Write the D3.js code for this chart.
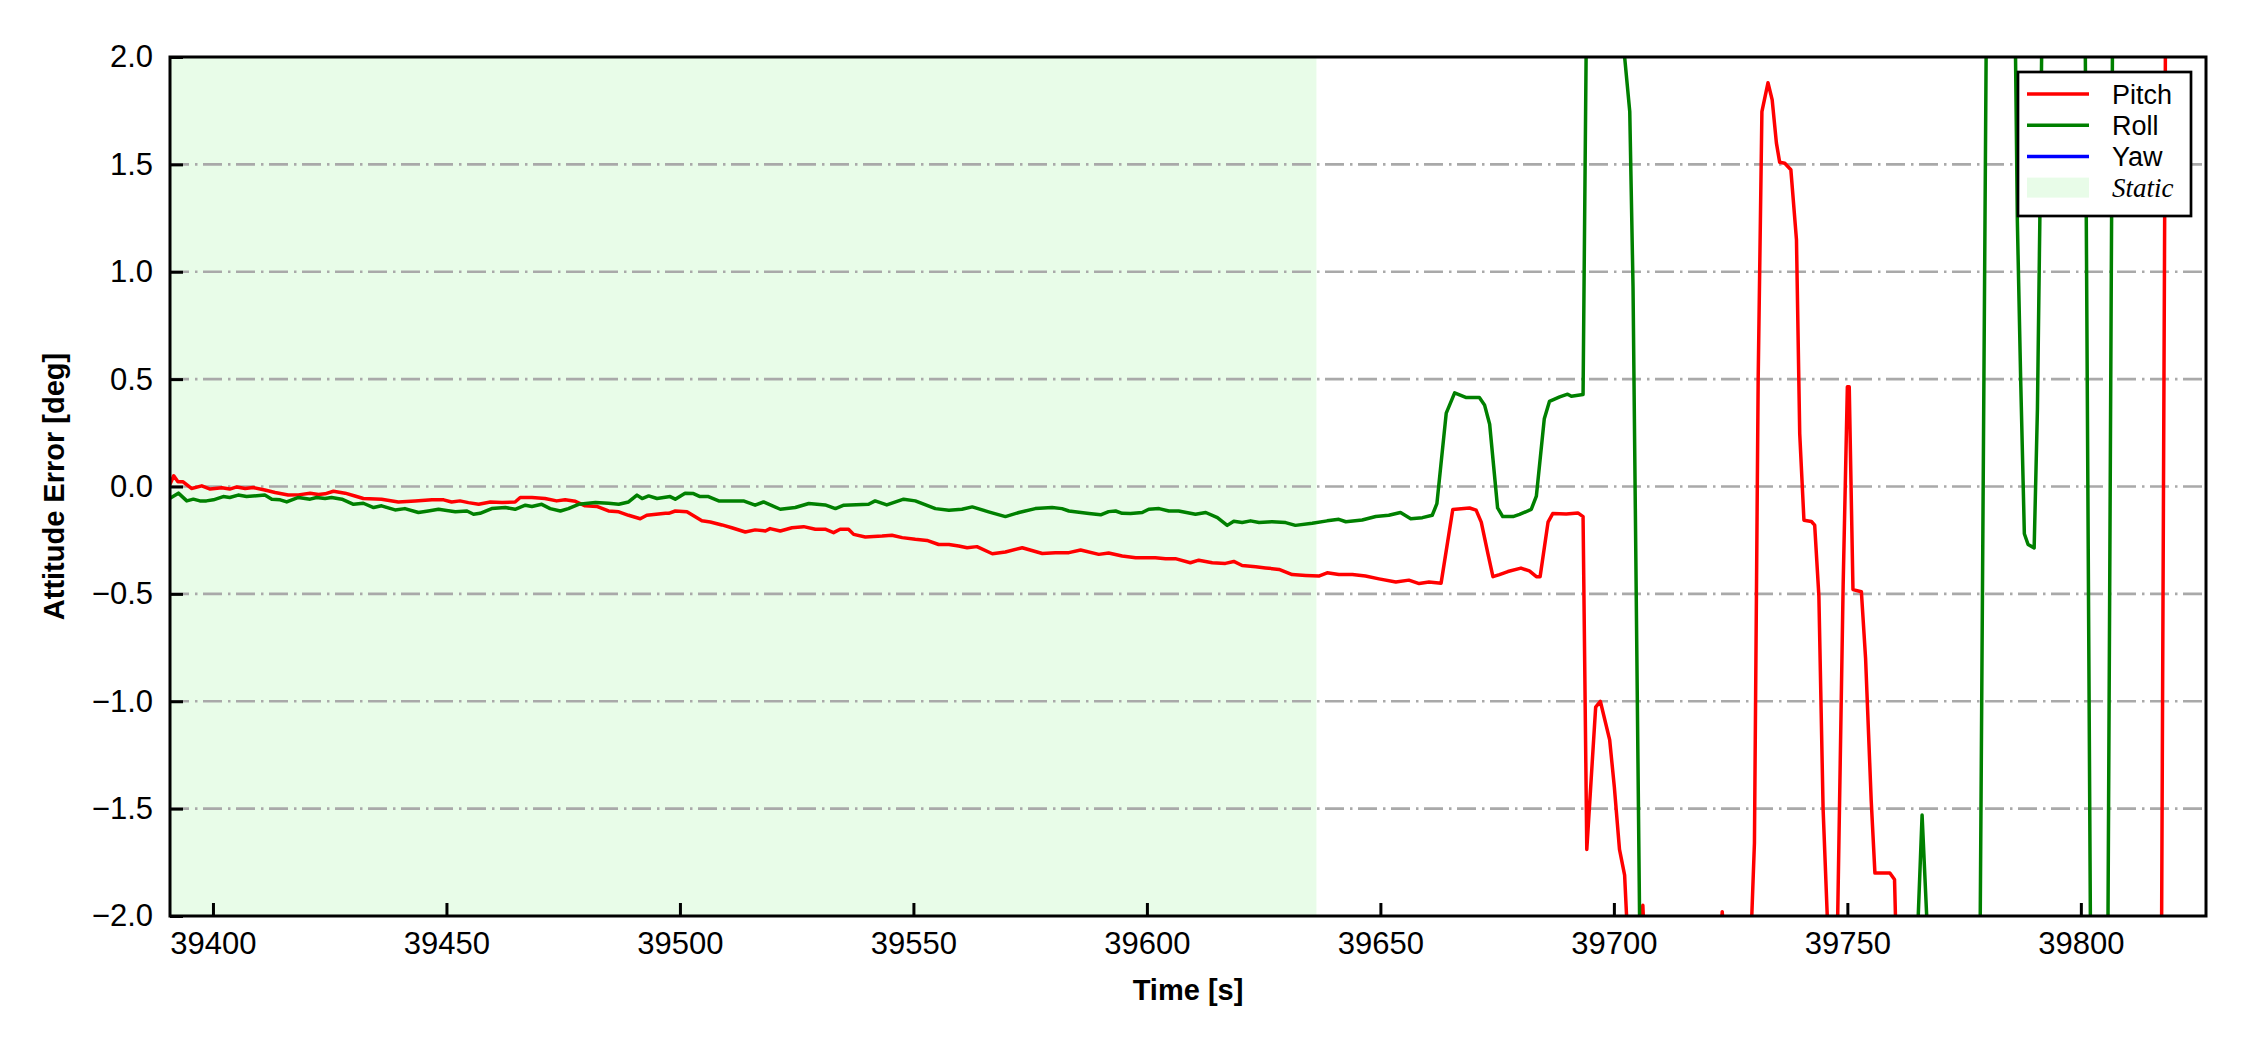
<!DOCTYPE html>
<html>
<head>
<meta charset="utf-8">
<script src="https://cdn.jsdelivr.net/npm/d3@7"></script>
<style>
  html, body { margin: 0; padding: 0; background: #fff; }
  svg { display: block; }
  .tick text { font-family: "Liberation Sans", Arial, sans-serif; }
</style>
</head>
<body>
<div id="chart"></div>
<script>
// axis window
var timeRange = [39390.8, 39826.8];
var errorRange = [-2, 2];
var timeTicks = [39400, 39450, 39500, 39550, 39600, 39650, 39700, 39750, 39800];
var errorTicks = [-2, -1.5, -1, -0.5, 0, 0.5, 1, 1.5, 2];

// static period (shaded)
var staticSpan = [39390.8, 39636.3];

// [time, error]; values beyond +-2 only mark where
// the trace leaves the visible window
var pitch = [
  [39390.8, 0.01], [39391.6, 0.05], [39392.5, 0.022], [39393.6, 0.022], [39395.4, -0.009],
  [39397.6, 0.003], [39399.4, -0.012], [39401.9, -0.006], [39403.6, -0.012], [39405.1, -0.002],
  [39406.9, -0.009], [39408.6, -0.005], [39411.1, -0.016], [39413.3, -0.028], [39416.1, -0.04],
  [39418.3, -0.039], [39420.8, -0.031], [39422.6, -0.037], [39424.0, -0.034], [39425.8, -0.022],
  [39428.3, -0.031], [39430.4, -0.044], [39432.2, -0.056], [39436.1, -0.059], [39439.7, -0.072],
  [39443.3, -0.067], [39446.9, -0.062], [39449.4, -0.062], [39451.1, -0.072], [39452.9, -0.067],
  [39454.7, -0.075], [39456.9, -0.083], [39459.4, -0.072], [39461.9, -0.075], [39464.7, -0.072],
  [39465.8, -0.051], [39468.3, -0.051], [39471.1, -0.056], [39473.6, -0.067], [39475.4, -0.062],
  [39477.6, -0.069], [39479.7, -0.09], [39482.2, -0.093], [39484.7, -0.114], [39486.9, -0.118],
  [39489.0, -0.134], [39491.5, -0.15], [39492.9, -0.134], [39496.9, -0.125], [39497.6, -0.125],
  [39499.0, -0.114], [39501.5, -0.118], [39504.7, -0.16], [39506.5, -0.165], [39509.0, -0.179],
  [39511.1, -0.192], [39514.0, -0.212], [39516.1, -0.202], [39518.3, -0.207], [39519.3, -0.196],
  [39521.5, -0.207], [39524.0, -0.192], [39526.5, -0.187], [39529.0, -0.199], [39531.1, -0.199],
  [39532.9, -0.215], [39534.3, -0.199], [39536.1, -0.199], [39537.2, -0.223], [39539.7, -0.235],
  [39543.3, -0.231], [39545.4, -0.227], [39547.6, -0.238], [39550.4, -0.246], [39552.9, -0.251],
  [39555.4, -0.27], [39557.6, -0.27], [39559.7, -0.277], [39561.5, -0.285], [39563.6, -0.28],
  [39566.9, -0.313], [39569.7, -0.305], [39573.3, -0.285], [39577.6, -0.312], [39580.4, -0.308],
  [39583.3, -0.308], [39585.8, -0.296], [39589.7, -0.316], [39591.8, -0.31], [39594.7, -0.324],
  [39597.6, -0.332], [39601.8, -0.332], [39604.0, -0.336], [39606.1, -0.336], [39609.3, -0.355],
  [39611.1, -0.343], [39614.0, -0.355], [39616.8, -0.358], [39618.6, -0.349], [39620.4, -0.368],
  [39623.3, -0.374], [39625.4, -0.379], [39628.3, -0.386], [39631.1, -0.41], [39634.0, -0.414],
  [39636.8, -0.417], [39638.6, -0.402], [39641.1, -0.41], [39644.0, -0.41], [39646.8, -0.417],
  [39649.7, -0.43], [39653.3, -0.445], [39656.1, -0.436], [39658.3, -0.452], [39660.4, -0.445],
  [39663.0, -0.45], [39665.5, -0.107], [39669.1, -0.10], [39670.5, -0.11], [39671.6, -0.166],
  [39673.0, -0.31], [39674.1, -0.42], [39675.5, -0.41], [39677.3, -0.396], [39680.1, -0.38],
  [39681.9, -0.393], [39683.4, -0.42], [39684.2, -0.42], [39685.9, -0.166], [39686.9, -0.126],
  [39689.8, -0.128], [39692.3, -0.123], [39693.4, -0.14], [39694.2, -1.69], [39696.1, -1.027],
  [39697.1, -1.0], [39699.1, -1.18], [39700.1, -1.40], [39701.2, -1.69], [39702.3, -1.81],
  [39703.6, -2.4], [39704.6, -2.6], [39706.2, -1.95], [39707.5, -2.6], [39712.0, -3.0],
  [39717.0, -2.8], [39722.0, -2.4], [39723.2, -1.98], [39724.5, -2.4], [39728.7, -2.5],
  [39730.1, -1.66], [39730.9, 0.5], [39731.7, 1.746], [39733.0, 1.88], [39733.9, 1.80],
  [39734.8, 1.60], [39735.5, 1.51], [39736.6, 1.505], [39737.9, 1.475], [39739.1, 1.15],
  [39739.8, 0.245], [39740.7, -0.157], [39742.3, -0.163], [39743.0, -0.18], [39743.9, -0.51],
  [39744.8, -1.50], [39746.5, -2.45], [39747.4, -2.7], [39749.1, -0.455], [39750.0, 0.464],
  [39750.4, 0.464], [39751.2, -0.48], [39753.0, -0.49], [39753.9, -0.80], [39755.1, -1.46],
  [39755.9, -1.80], [39757.3, -1.80], [39759.1, -1.80], [39760.1, -1.83], [39761.0, -2.6],
  [39775.0, -3.5], [39800.0, -3.5], [39817.2, -2.5], [39818.2, 2.5], [39826.8, 3.0]
];

var roll = [
  [39390.8, -0.055], [39392.6, -0.031], [39394.4, -0.067], [39395.8, -0.059], [39397.2, -0.067],
  [39398.6, -0.067], [39400.1, -0.062], [39402.2, -0.047], [39403.6, -0.051], [39405.4, -0.040],
  [39407.2, -0.047], [39411.1, -0.04], [39412.6, -0.059], [39414.4, -0.062], [39415.8, -0.072],
  [39418.3, -0.051], [39420.8, -0.059], [39422.2, -0.051], [39424.0, -0.056], [39425.4, -0.051],
  [39427.6, -0.059], [39430.1, -0.083], [39432.2, -0.078], [39434.4, -0.098], [39436.1, -0.09],
  [39439.0, -0.109], [39441.1, -0.103], [39444.0, -0.121], [39446.1, -0.114], [39448.3, -0.106],
  [39451.9, -0.118], [39454.4, -0.114], [39455.8, -0.129], [39457.2, -0.125], [39459.7, -0.103],
  [39462.6, -0.098], [39464.7, -0.106], [39466.9, -0.087], [39468.3, -0.093], [39470.4, -0.083],
  [39472.2, -0.103], [39474.4, -0.114], [39476.1, -0.103], [39478.3, -0.083], [39481.9, -0.075],
  [39484.7, -0.078], [39486.9, -0.083], [39489.0, -0.072], [39490.8, -0.04], [39491.9, -0.056],
  [39493.3, -0.044], [39495.1, -0.056], [39497.9, -0.047], [39499.0, -0.059], [39501.1, -0.031],
  [39502.9, -0.033], [39504.3, -0.047], [39506.1, -0.047], [39508.3, -0.067], [39510.4, -0.067],
  [39513.6, -0.067], [39516.1, -0.087], [39517.9, -0.072], [39521.5, -0.106], [39524.7, -0.098],
  [39527.6, -0.079], [39531.1, -0.086], [39533.3, -0.103], [39535.1, -0.087], [39540.4, -0.083],
  [39541.8, -0.067], [39544.3, -0.086], [39547.9, -0.059], [39550.4, -0.067], [39554.7, -0.103],
  [39557.6, -0.111], [39560.4, -0.106], [39562.6, -0.095], [39566.1, -0.118], [39569.7, -0.14],
  [39572.6, -0.121], [39576.1, -0.103], [39579.7, -0.098], [39581.8, -0.103], [39583.3, -0.114],
  [39587.6, -0.126], [39590.1, -0.132], [39591.8, -0.117], [39593.3, -0.114], [39594.7, -0.125],
  [39596.5, -0.126], [39599.0, -0.121], [39600.4, -0.106], [39602.6, -0.103], [39604.7, -0.114],
  [39606.8, -0.114], [39610.4, -0.129], [39612.6, -0.121], [39615.1, -0.145], [39617.2, -0.181],
  [39618.6, -0.162], [39620.4, -0.168], [39622.2, -0.16], [39624.0, -0.168], [39626.8, -0.164],
  [39629.7, -0.168], [39631.8, -0.181], [39635.4, -0.171], [39638.6, -0.16], [39641.1, -0.153],
  [39642.6, -0.164], [39646.1, -0.156], [39649.0, -0.14], [39651.8, -0.134], [39654.3, -0.121],
  [39656.5, -0.15], [39659.0, -0.145], [39661.1, -0.134], [39662.1, -0.08], [39664.1, 0.342],
  [39665.9, 0.436], [39668.4, 0.414], [39671.2, 0.414], [39672.3, 0.38], [39673.4, 0.29],
  [39675.1, -0.10], [39676.2, -0.14], [39678.4, -0.14], [39679.8, -0.13], [39682.3, -0.107],
  [39683.4, -0.045], [39685.1, 0.316], [39686.2, 0.396], [39688.4, 0.417], [39690.1, 0.43],
  [39690.9, 0.42], [39693.4, 0.428], [39694.3, 2.6], [39698.0, 4.0], [39701.0, 3.0],
  [39702.0, 2.07], [39703.4, 1.746], [39704.1, 0.93], [39706.1, -3.25], [39730.0, -4.0],
  [39760.0, -4.0], [39765.0, -2.1], [39766.0, -1.53], [39767.2, -2.1], [39778.3, -2.5],
  [39779.9, 2.6], [39785.5, 3.0], [39786.4, 1.24], [39787.1, 0.51], [39787.9, -0.22],
  [39788.7, -0.27], [39790.0, -0.286], [39790.7, 0.36], [39791.2, 1.21], [39792.0, 2.8],
  [39800.8, 2.6], [39802.2, -2.6], [39805.7, -2.5], [39806.9, 2.6], [39826.8, 3.0]
];

// yaw stays outside the +-2 deg window over this interval
var yaw = [];

var seriesNames = ["Pitch", "Roll", "Yaw"];
var seriesColors = ["#ff0000", "#008000", "#0000ff"];

var W = 2250, H = 1050;
var margin = {left: 170, top: 57, right: 44, bottom: 134};
var w = W - margin.left - margin.right,
    h = H - margin.top - margin.bottom;

var svg = d3.select("#chart").append("svg")
    .attr("width", W)
    .attr("height", H);

var x = d3.scaleLinear().domain(timeRange).range([0, w]);
var y = d3.scaleLinear().domain(errorRange).range([h, 0]);

var g = svg.append("g")
    .attr("transform", "translate(" + margin.left + "," + margin.top + ")");

g.append("defs").append("clipPath")
    .attr("id", "plotclip")
    .append("rect")
    .attr("width", w)
    .attr("height", h);

// static shading
g.append("rect")
    .attr("clip-path", "url(#plotclip)")
    .attr("x", x(staticSpan[0]))
    .attr("y", 0)
    .attr("width", x(staticSpan[1]) - x(staticSpan[0]))
    .attr("height", h)
    .style("fill", "#e8fce8");

// horizontal dash-dot grid
g.selectAll(".grid")
    .data(errorTicks.filter(function(d) { return d > errorRange[0] && d < errorRange[1]; }))
    .enter()
    .append("line")
    .attr("class", "grid")
    .attr("x1", 0)
    .attr("x2", w)
    .attr("y1", d => y(d))
    .attr("y2", d => y(d))
    .style("stroke", "#a9a9a9")
    .style("stroke-width", 2.6)
    .style("stroke-dasharray", "19,6,2.5,5.5");

var line = d3.line()
    .x(d => x(d[0]))
    .y(d => y(d[1]));

var lines = g.append("g").attr("clip-path", "url(#plotclip)");
[pitch, roll, yaw].forEach(function(data, i) {
  if (!data.length) return;
  lines.append("path")
      .datum(data)
      .attr("d", line)
      .style("fill", "none")
      .style("stroke", seriesColors[i])
      .style("stroke-width", 3.5)
      .style("stroke-linejoin", "round");
});

// axes with inward ticks
var fmt = function(d) { return d3.format(".1f")(d).replace("-", "\u2212"); };

var yAxis = g.append("g")
    .call(d3.axisLeft(y).tickValues(errorTicks).tickFormat(fmt)
      .tickSize(-13).tickPadding(17));

var xAxis = g.append("g")
    .attr("transform", "translate(0," + h + ")")
    .call(d3.axisBottom(x).tickValues(timeTicks).tickFormat(d3.format("d"))
      .tickSize(-13).tickPadding(16));

[yAxis, xAxis].forEach(function(a) {
  a.select(".domain").remove();
  a.selectAll(".tick line").style("stroke", "#000").style("stroke-width", 3);
  a.selectAll(".tick text")
      .style("font-size", "31px")
      .style("fill", "#000");
});

// frame
g.append("rect")
    .attr("width", w)
    .attr("height", h)
    .style("fill", "none")
    .style("stroke", "#000")
    .style("stroke-width", 3);

// axis labels
svg.append("text")
    .attr("x", margin.left + w / 2)
    .attr("y", 1000)
    .attr("text-anchor", "middle")
    .style("font-family", "Liberation Sans, Arial, sans-serif")
    .style("font-weight", "bold")
    .style("font-size", "29px")
    .text("Time [s]");

svg.append("text")
    .attr("transform", "translate(64," + (margin.top + h / 2) + ") rotate(-90)")
    .attr("text-anchor", "middle")
    .style("font-family", "Liberation Sans, Arial, sans-serif")
    .style("font-weight", "bold")
    .style("font-size", "29px")
    .text("Attitude Error [deg]");

// legend
var legend = svg.append("g").attr("transform", "translate(2018,72)");
legend.append("rect")
    .attr("width", 173)
    .attr("height", 144)
    .style("fill", "#fff")
    .style("stroke", "#000")
    .style("stroke-width", 2.7);

var rowY = function(i) { return 22 + i * 31.2; };

seriesNames.forEach(function(name, i) {
  legend.append("line")
      .attr("x1", 9).attr("x2", 71)
      .attr("y1", rowY(i)).attr("y2", rowY(i))
      .style("stroke", seriesColors[i])
      .style("stroke-width", 3.5);
  legend.append("text")
      .attr("x", 94)
      .attr("y", rowY(i) + 10)
      .style("font-family", "Liberation Sans, Arial, sans-serif")
      .style("font-size", "27px")
      .text(name);
});

legend.append("rect")
    .attr("x", 9)
    .attr("y", rowY(3) - 10)
    .attr("width", 62)
    .attr("height", 20)
    .style("fill", "#e8fce8");
legend.append("text")
    .attr("x", 94)
    .attr("y", rowY(3) + 9)
    .style("font-family", "Liberation Serif, Times New Roman, serif")
    .style("font-style", "italic")
    .style("font-size", "27px")
    .text("Static");
</script>
</body>
</html>
